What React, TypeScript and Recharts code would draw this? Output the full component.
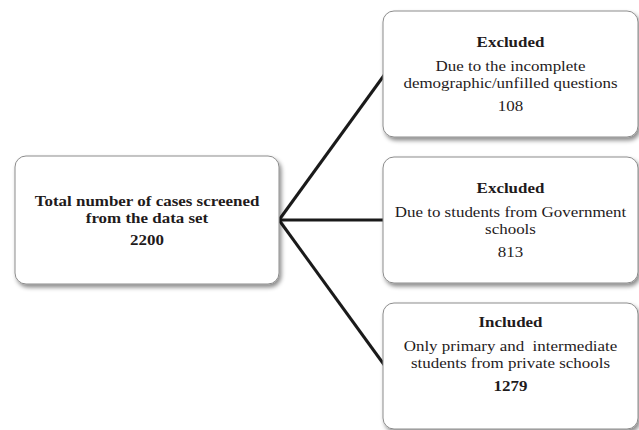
import React from "react";
import { ScatterChart, Scatter, XAxis, YAxis } from "recharts";

const W = 639;
const H = 430;
const FONT = "'Liberation Serif', 'Times New Roman', serif";
const INK = "#1f1b1c";
const FONT_SIZE = 15;
const STRETCH = 1.13; // the source text is set slightly wide

// flowchart nodes
const nodeColumns = [0, 1, 1, 1];
const nodeRows = [0, -1, 0, 1];
const nodeTitles = ["", "Excluded", "Excluded", "Included"];
const nodeLines = [
  ["Total number of cases screened", "from the data set"],
  ["Due to the incomplete", "demographic/unfilled questions"],
  ["Due to students from Government", "schools"],
  ["Only primary and  intermediate", "students from private schools"],
];
const nodeCounts = [2200, 108, 813, 1279];
const countBold = [true, false, false, true];

// links: source node -> target node
const linkSources = [0, 0, 0];
const linkTargets = [1, 2, 3];

// layout (pixels)
const COL_PX = 363.5; // distance between column centres
const COL0_PX = 147;
const ROW_PX = 146;
const ROW0_PX = 220;
const BOX_W = [264, 255];
const BOX_H = [128, 126];
const TEXT_SHIFT = [1, 0, 0, -12];

const xDomain = [-COL0_PX / COL_PX, (W - COL0_PX) / COL_PX];
const yDomain = [-ROW0_PX / ROW_PX, (H - ROW0_PX) / ROW_PX];

const nodes = nodeColumns.map((c, i) => ({
  x: c,
  y: nodeRows[i],
  i,
}));

const links = linkSources.map((s, k) => {
  const t = linkTargets[k];
  const sc = nodeColumns[s];
  const tc = nodeColumns[t];
  return [
    { x: sc + BOX_W[sc] / 2 / COL_PX, y: nodeRows[s] },
    { x: tc - (BOX_W[tc] / 2 - 2) / COL_PX, y: nodeRows[t] },
  ];
});

function NodeBox(props: any) {
  const { cx, cy, payload } = props;
  const i = payload.i;
  const col = nodeColumns[i];
  const w = BOX_W[col];
  const h = BOX_H[col];

  // baseline positions of each text row
  const rows: { text: string; bold: boolean; dy: number }[] = [];
  let y = 0;
  if (nodeTitles[i]) {
    rows.push({ text: nodeTitles[i], bold: true, dy: y });
    y += 24;
  }
  nodeLines[i].forEach((l, k) => {
    if (k > 0) y += 17;
    rows.push({ text: l, bold: col === 0, dy: y });
  });
  y += col === 0 ? 22 : 23;
  rows.push({ text: String(nodeCounts[i]), bold: countBold[i], dy: y });
  const offset = 5 - y / 2 + TEXT_SHIFT[i];

  return (
    <g>
      <rect
        x={cx - w / 2}
        y={cy - h / 2}
        width={w}
        height={h}
        rx={11}
        ry={11}
        fill="#ffffff"
        stroke="#8c8c8c"
        strokeWidth={1}
        filter="url(#box-shadow)"
      />
      <g transform={`translate(${cx},0) scale(${STRETCH},1)`}>
        {rows.map((r, k) => (
          <text
            key={k}
            x={0}
            y={cy + offset + r.dy}
            textAnchor="middle"
            fontFamily={FONT}
            fontSize={FONT_SIZE}
            fontWeight={r.bold ? 700 : 400}
            fill={INK}
            style={{ whiteSpace: "pre" }}
          >
            {r.text}
          </text>
        ))}
      </g>
    </g>
  );
}

export default function App() {
  return (
    <div
      style={{
        position: "absolute",
        left: 0,
        top: 0,
        width: W,
        height: H,
        background: "#ffffff",
      }}
    >
      <ScatterChart
        width={W}
        height={H}
        margin={{ top: 0, right: 0, bottom: 0, left: 0 }}
      >
        <defs>
          <filter id="box-shadow" x="-10%" y="-10%" width="125%" height="130%">
            <feDropShadow
              dx={2}
              dy={3}
              stdDeviation={2}
              floodColor="#000000"
              floodOpacity={0.45}
            />
          </filter>
        </defs>
        <XAxis
          type="number"
          dataKey="x"
          domain={xDomain}
          allowDataOverflow
          hide
        />
        <YAxis
          type="number"
          dataKey="y"
          domain={yDomain}
          allowDataOverflow
          reversed
          hide
        />
        {links.map((d, k) => (
          <Scatter
            key={`link-${k}`}
            data={d}
            line={{ stroke: "#1a1a1a", strokeWidth: 3 }}
            shape={() => <g />}
            isAnimationActive={false}
          />
        ))}
        <Scatter data={nodes} shape={NodeBox} isAnimationActive={false} />
      </ScatterChart>
    </div>
  );
}
